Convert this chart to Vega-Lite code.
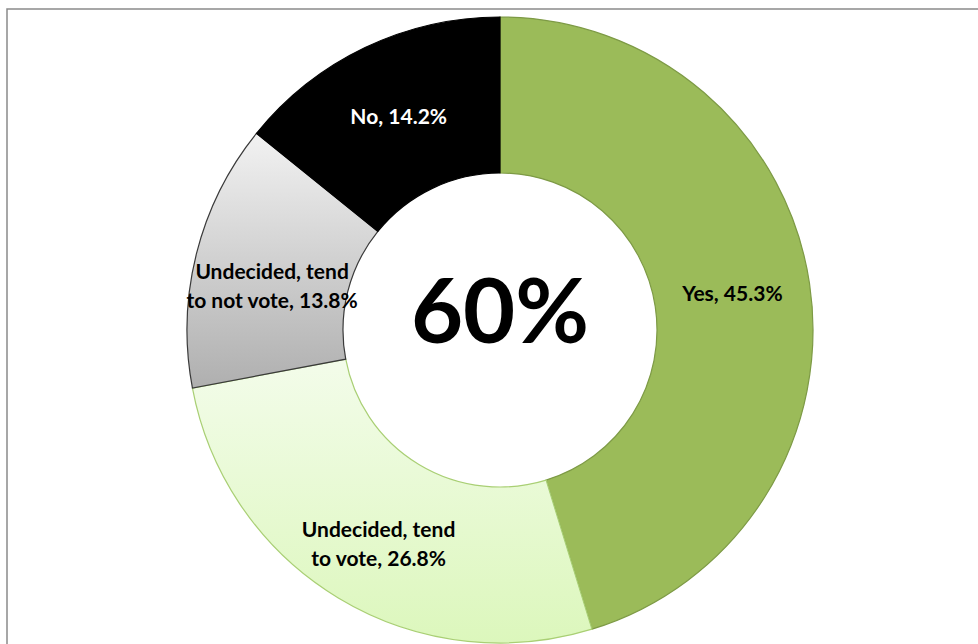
{
  "$schema": "https://vega.github.io/schema/vega-lite/v6.json",
  "width": 986,
  "height": 642,
  "padding": {"left": 7, "top": 9, "right": 0, "bottom": 0},
  "background": "white",
  "view": {"stroke": "#8a8a8a", "strokeWidth": 1.5},
  "config": {"view": {"stroke": "#8a8a8a", "strokeWidth": 1.5}},
  "data": {
    "values": [
      {"category": "Yes", "value": 45.3, "order": 1, "label": "Yes, 45.3%"},
      {"category": "Undecided, tend to vote", "value": 26.8, "order": 2, "label": "Undecided, tend\nto vote, 26.8%"},
      {"category": "Undecided, tend to not vote", "value": 13.8, "order": 3, "label": "Undecided, tend\nto not vote, 13.8%"},
      {"category": "No", "value": 14.2, "order": 4, "label": "No, 14.2%"}
    ]
  },
  "layer": [
    {
      "mark": {"type": "arc", "radius": 313, "innerRadius": 157, "strokeWidth": 1.2},
      "encoding": {
        "theta": {"field": "value", "type": "quantitative", "stack": true},
        "order": {"field": "order", "type": "quantitative"},
        "fill": {
          "condition": [
            {"test": "datum.order == 1", "value": "#9BBB59"},
            {"test": "datum.order == 2", "value": {"gradient": "linear", "x1": 0, "y1": 0, "x2": 0, "y2": 1, "stops": [{"offset": 0, "color": "#F3FCEA"}, {"offset": 1, "color": "#DCF7BC"}]}},
            {"test": "datum.order == 3", "value": {"gradient": "linear", "x1": 0, "y1": 0, "x2": 0, "y2": 1, "stops": [{"offset": 0, "color": "#F2F2F2"}, {"offset": 1, "color": "#AFAFAF"}]}}
          ],
          "value": "#000000"
        },
        "stroke": {
          "condition": [
            {"test": "datum.order == 1", "value": "#7D9A45"},
            {"test": "datum.order == 2", "value": "#A9CF74"},
            {"test": "datum.order == 3", "value": "#3A3A3A"}
          ],
          "value": "#000000"
        }
      }
    },
    {
      "mark": {"type": "text", "radius": 235, "font": "Lato", "fontWeight": "bold", "fontSize": 21, "lineBreak": "\n", "lineHeight": 29},
      "encoding": {
        "theta": {"field": "value", "type": "quantitative", "stack": true},
        "order": {"field": "order", "type": "quantitative"},
        "text": {"field": "label", "type": "nominal"},
        "color": {
          "condition": {"test": "datum.order == 4", "value": "#FFFFFF"},
          "value": "#000000"
        }
      }
    },
    {
      "data": {"values": [{"center": "60%"}]},
      "mark": {"type": "text", "font": "Lato", "fontWeight": "bold", "fontSize": 90, "dy": -14},
      "encoding": {
        "text": {"field": "center", "type": "nominal"}
      }
    }
  ]
}
